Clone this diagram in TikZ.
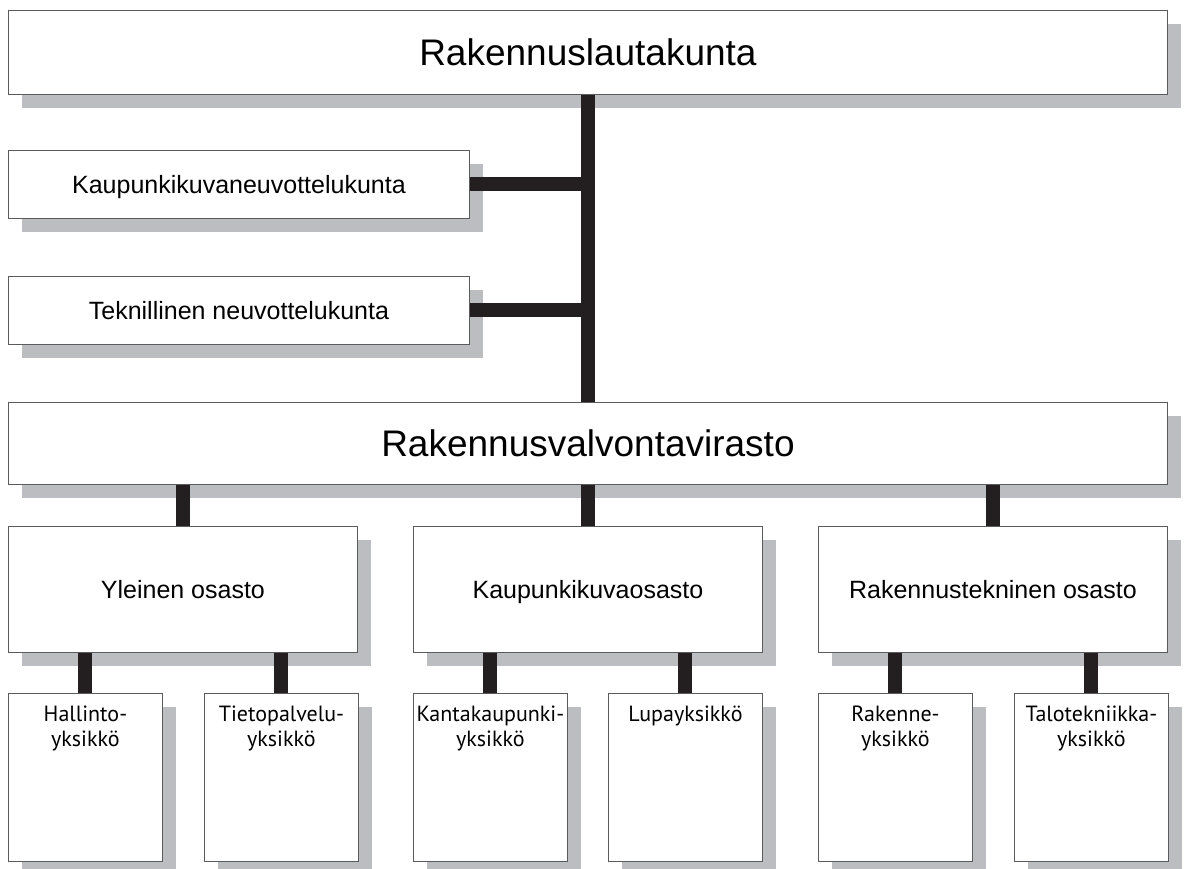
\documentclass[tikz,border=0pt]{standalone}
\usepackage{fontspec}
\setmainfont{Liberation Sans}
\newfontfamily\unitfamily{PT Sans}
\usetikzlibrary{shadows}
\definecolor{shadowgray}{HTML}{BCBDC0}
\definecolor{framegray}{HTML}{5A5B5D}
\definecolor{linkblack}{HTML}{231F20}

\begin{document}
\begin{tikzpicture}[x=1pt, y=-1pt,
    box/.style={draw=framegray, line width=0.9pt, fill=white, anchor=north west,
        inner sep=0pt, align=center,
        drop shadow={shadow xshift=14pt, shadow yshift=-14pt, fill=shadowgray, opacity=1}},
    bigbox/.style={box, minimum width=1159pt, text height=26.5pt, text depth=0pt,
        font=\fontsize{37}{44}\selectfont},
    sidebox/.style={box, minimum width=461pt, minimum height=68pt, text height=18pt,
        text depth=0pt, font=\fontsize{25}{30}\selectfont},
    deptbox/.style={box, minimum width=349pt, minimum height=126pt, text height=18pt,
        text depth=0pt, font=\fontsize{25}{30}\selectfont},
    unitbox/.style={box, minimum width=154pt, minimum height=168pt},
    unitlabel/.style={anchor=north, yshift=-13pt, inner sep=0pt, align=center,
        font=\unitfamily\fontsize{22}{25}\selectfont},
    link/.style={draw=linkblack, line width=14pt}]
\useasboundingbox (0,0) rectangle (1184,868);

% Board and advisory committees
\node[bigbox, minimum height=84pt] (board) at (8,10) {Rakennuslautakunta};
\node[sidebox] (cityboard) at (8,150) {Kaupunkikuvaneuvottelukunta};
\node[sidebox] (techboard) at (8,276) {Teknillinen neuvottelukunta};

% Office
\node[bigbox, minimum height=82pt] (office) at (8,402) {Rakennusvalvontavirasto};

% Departments
\node[deptbox] (general) at (8,526) {Yleinen osasto};
\node[deptbox] (cityscape) at (413,526) {Kaupunkikuvaosasto};
\node[deptbox] (building) at (818,526) {Rakennustekninen osasto};

% Units
\node[unitbox, label={[unitlabel]north:Hallinto-\\yksikkö}] (admin) at (8,693) {};
\node[unitbox, label={[unitlabel]north:Tietopalvelu-\\yksikkö}] (info) at (204,693) {};
\node[unitbox, label={[unitlabel]north:Kantakaupunki-\\yksikkö}] (centre) at (413,693) {};
\node[unitbox, label={[unitlabel]north:Lupayksikkö}] (permit) at (608,693) {};
\node[unitbox, label={[unitlabel]north:Rakenne-\\yksikkö}] (struct) at (818,693) {};
\node[unitbox, label={[unitlabel]north:Talotekniikka-\\yksikkö}] (hvac) at (1014,693) {};

% Trunk and branches
\draw[link] (board.south) -- (office.north);
\draw[link] (cityboard.east) -- (cityboard.east -| board.south);
\draw[link] (techboard.east) -- (techboard.east -| board.south);

\foreach \dept in {general, cityscape, building}
    \draw[link] (office.south -| \dept.north) -- (\dept.north);

\draw[link] (general.south -| admin.north) -- (admin.north);
\draw[link] (general.south -| info.north) -- (info.north);
\draw[link] (cityscape.south -| centre.north) -- (centre.north);
\draw[link] (cityscape.south -| permit.north) -- (permit.north);
\draw[link] (building.south -| struct.north) -- (struct.north);
\draw[link] (building.south -| hvac.north) -- (hvac.north);
\end{tikzpicture}
\end{document}
